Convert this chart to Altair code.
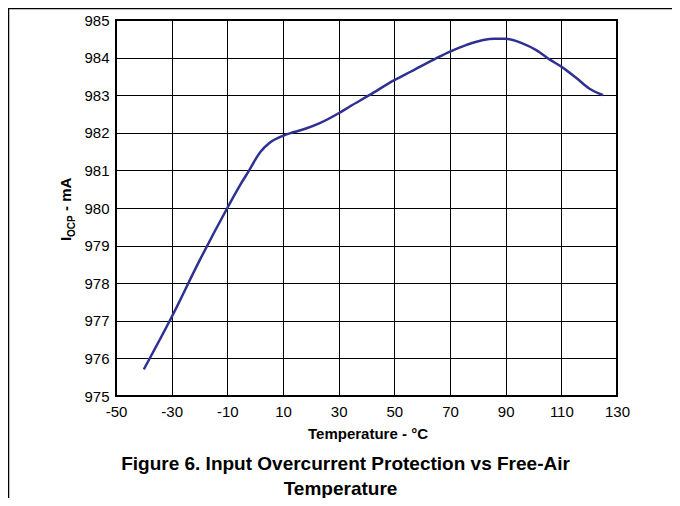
import altair as alt
import pandas as pd

# Data
temps = [-40, -30, -20, -10, -5, -2, 0, 2, 5, 10, 14, 18.5, 23, 30, 34, 41, 50, 56, 65, 70, 76, 82, 86, 90, 96, 101, 106, 110, 115.5, 120, 125]
iocp = [975.71, 977.1, 978.6, 980.0, 980.66, 981.02, 981.28, 981.5, 981.72, 981.92, 982.02, 982.12, 982.25, 982.52, 982.7, 983.0, 983.4, 983.63, 983.98, 984.16, 984.34, 984.47, 984.5, 984.5, 984.38, 984.2, 983.94, 983.76, 983.45, 983.18, 983.0]

x_ticks = [-50, -30, -10, 10, 30, 50, 70, 90, 110, 130]
y_ticks = [975, 976, 977, 978, 979, 980, 981, 982, 983, 984, 985]

x_title = ["Temperature - °C"]
y_title_main = ["I"]
y_title_sub = ["OCP"]
y_title_rest = ["- mA"]
caption_1 = ["Figure 6. Input Overcurrent Protection vs Free-Air"]
caption_2 = ["Temperature"]

FONT = "Liberation Sans"

df = pd.DataFrame({"T": temps, "I": iocp})

x_enc = alt.X(
    "T:Q",
    scale=alt.Scale(domain=[-50, 130], nice=False, zero=False),
    axis=alt.Axis(values=x_ticks, title=None, ticks=False, domain=False,
                  labelFont=FONT, labelFontSize=15, labelColor="black",
                  labelPadding=8, gridColor="black", gridOpacity=1, gridWidth=1,
                  labelFlush=False, labelExpr="'' + datum.value"),
)
y_enc = alt.Y(
    "I:Q",
    scale=alt.Scale(domain=[975, 985], nice=False, zero=False),
    axis=alt.Axis(values=y_ticks, title=None, ticks=False, domain=False,
                  labelFont=FONT, labelFontSize=15, labelColor="black",
                  labelPadding=7, gridColor="black", gridOpacity=1, gridWidth=1,
                  labelFlush=False, labelExpr="'' + datum.value"),
)

line = alt.Chart(df).mark_line(
    color="#2E3192", strokeWidth=2.5, interpolate="monotone"
).encode(x=x_enc, y=y_enc)


def text_layer(values, x, y, size, bold=True, angle=0, align="center", baseline="alphabetic"):
    params = dict(font=FONT, fontSize=size, fontWeight="bold" if bold else "normal",
                  color="black", align=align, baseline=baseline)
    if angle:
        params["angle"] = angle
    return alt.Chart(pd.DataFrame({"t": values})).mark_text(**params).encode(
        text="t:N", x=alt.value(x), y=alt.value(y)
    )


xt = text_layer(x_title, 252, 419, 15)
yt1 = text_layer(y_title_main, -45.5, 221, 15, angle=270, align="left")
yt2 = text_layer(y_title_sub, -41.5, 217, 10, angle=270, align="left")
yt3 = text_layer(y_title_rest, -45.5, 191, 15, angle=270, align="left")
cap1 = text_layer(caption_1, 229.5, 450, 19)
cap2 = text_layer(caption_2, 224.5, 475, 19)

frame_v = alt.Chart(pd.DataFrame({"a": [0]})).mark_rule(color="black", strokeWidth=1.5).encode(
    x=alt.value(-107.5), y=alt.value(-12), y2=alt.value(478)
)
frame_h = alt.Chart(pd.DataFrame({"a": [0]})).mark_rule(color="black", strokeWidth=1.5).encode(
    x=alt.value(-108), x2=alt.value(556), y=alt.value(-11.5)
)

chart = alt.layer(line, xt, yt1, yt2, yt3, cap1, cap2, frame_v, frame_h).properties(
    width=501,
    height=376,
    padding={"left": 108, "top": 12, "right": 55, "bottom": 102},
    autosize=alt.AutoSizeParams(type="none"),
).configure_view(stroke="black", strokeWidth=2)

chart.save("out.html", embed_options={"renderer": "svg", "actions": False})
